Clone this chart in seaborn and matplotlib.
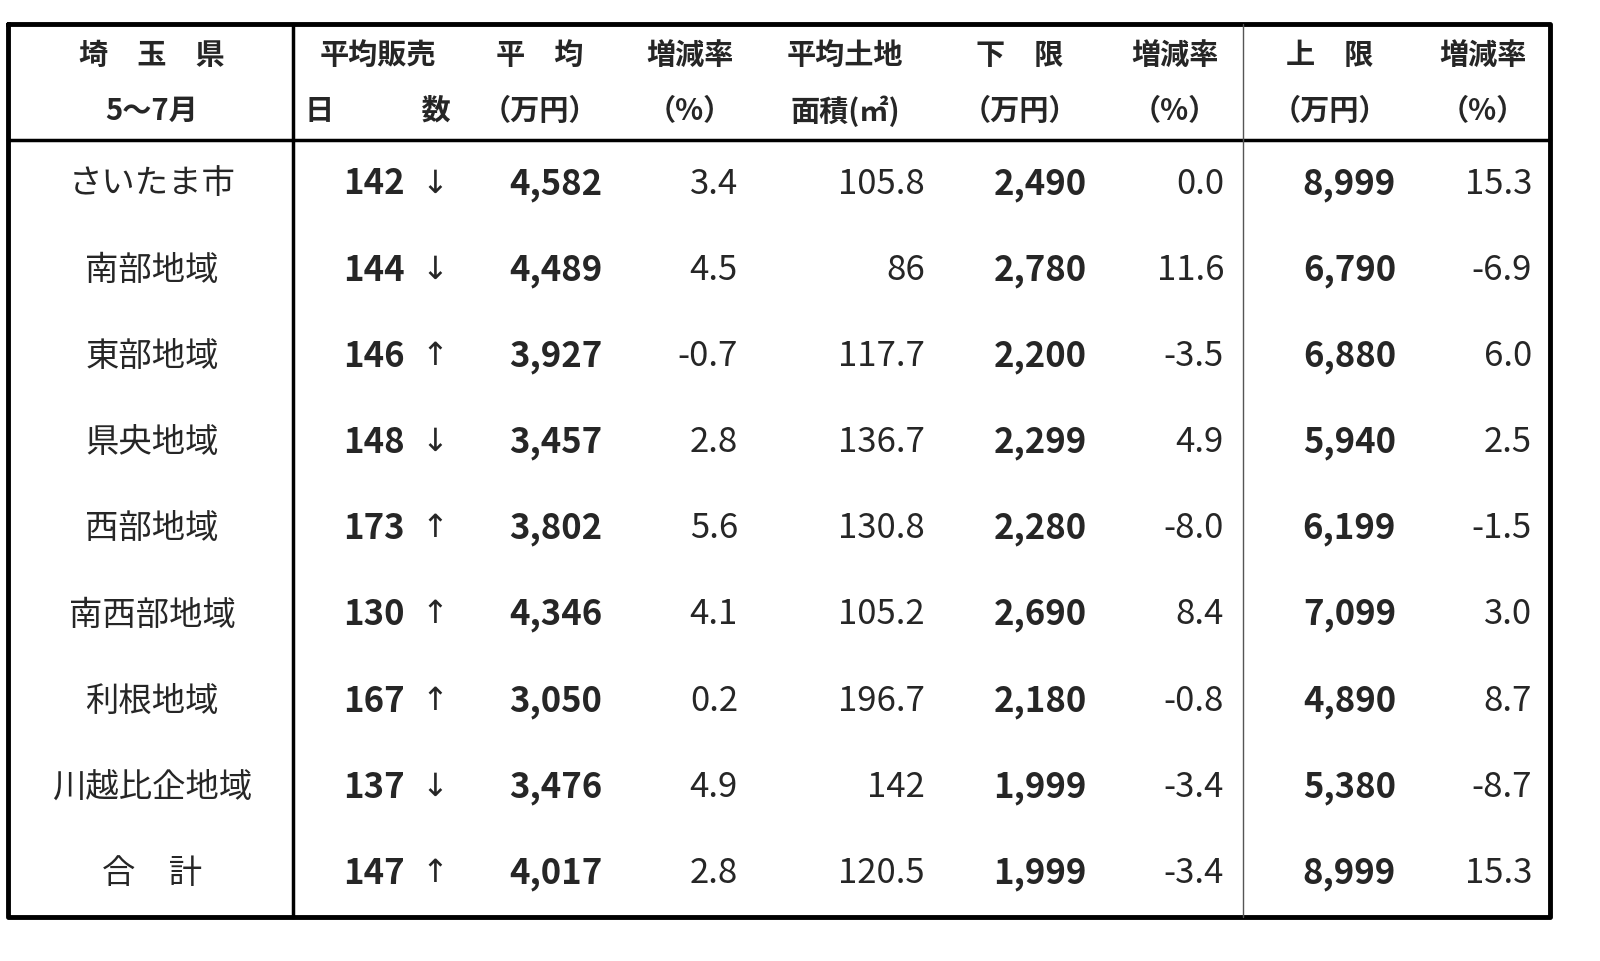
import matplotlib
matplotlib.use("Agg")
import matplotlib.pyplot as plt
import seaborn as sns

regions = ["さいたま市", "南部地域", "東部地域", "県央地域", "西部地域",
           "南西部地域", "利根地域", "川越比企地域", "合　計"]
days = [142, 144, 146, 148, 173, 130, 167, 137, 147]
arrows = ["↓", "↓", "↑", "↓", "↑", "↑", "↑", "↓", "↑"]
mean_price = [4582, 4489, 3927, 3457, 3802, 4346, 3050, 3476, 4017]
mean_rate = [3.4, 4.5, -0.7, 2.8, 5.6, 4.1, 0.2, 4.9, 2.8]
land = ["105.8", "86", "117.7", "136.7", "130.8", "105.2", "196.7", "142", "120.5"]
low_price = [2490, 2780, 2200, 2299, 2280, 2690, 2180, 1999, 1999]
low_rate = [0.0, 11.6, -3.5, 4.9, -8.0, 8.4, -0.8, -3.4, -3.4]
high_price = [8999, 6790, 6880, 5940, 6199, 7099, 4890, 5380, 8999]
high_rate = [15.3, -6.9, 6.0, 2.5, -1.5, 3.0, 8.7, -8.7, 15.3]

header_top = ["埼　玉　県", "平均販売", "平　均", "増減率", "平均土地", "下　限", "増減率", "上　限", "増減率"]
header_bot = ["5～7月", "日　　　数", "（万円）", "（%）", "面積(㎡)", "（万円）", "（%）", "（万円）", "（%）"]
header_x = [152, 378, 540, 690, 845, 1020, 1175, 1330, 1483]

sns.set_theme(style="white")
plt.rcParams['font.family'] = ['Noto Sans CJK JP', 'DejaVu Sans']

fig = plt.figure(figsize=(16, 9.62), dpi=100)
ax = fig.add_axes([0, 0, 1, 1])
ax.set_xlim(0, 1600)
ax.set_ylim(962, 0)
ax.axis("off")

# grid lines
L, R, T, B = 8, 1550, 25, 918
ax.plot([L, R, R, L, L], [T, T, B, B, T], color="black", lw=3.5)
ax.plot([L, R], [141, 141], color="black", lw=2.5)
ax.plot([293, 293], [T, B], color="black", lw=2.5)
ax.plot([1243, 1243], [T, B], color="#555555", lw=1)

fs = 25
hfs = 21
for x, t, b in zip(header_x, header_top, header_bot):
    ax.text(x, 55, t, ha="center", va="center", fontsize=hfs, fontweight="bold")
    ax.text(x, 111, b, ha="center", va="center", fontsize=hfs, fontweight="bold")

row_y0, row_dy = 184, 86.2
for i, name in enumerate(regions):
    y = row_y0 + i * row_dy
    ax.text(152, y, name, ha="center", va="center", fontsize=fs - 1)
    ax.text(405, y, f"{days[i]}", ha="right", va="center", fontsize=fs, fontweight="bold")
    ax.text(435, y, arrows[i], ha="center", va="center", fontsize=fs - 2, family=['DejaVu Sans'])
    ax.text(602, y, f"{mean_price[i]:,}", ha="right", va="center", fontsize=fs, fontweight="bold")
    ax.text(738, y, f"{mean_rate[i]:.1f}", ha="right", va="center", fontsize=fs)
    ax.text(925, y, land[i], ha="right", va="center", fontsize=fs)
    ax.text(1087, y, f"{low_price[i]:,}", ha="right", va="center", fontsize=fs, fontweight="bold")
    ax.text(1224, y, f"{low_rate[i]:.1f}", ha="right", va="center", fontsize=fs)
    ax.text(1396, y, f"{high_price[i]:,}", ha="right", va="center", fontsize=fs, fontweight="bold")
    ax.text(1532, y, f"{high_rate[i]:.1f}", ha="right", va="center", fontsize=fs)

fig.savefig("out.png", dpi=100, facecolor="white")
